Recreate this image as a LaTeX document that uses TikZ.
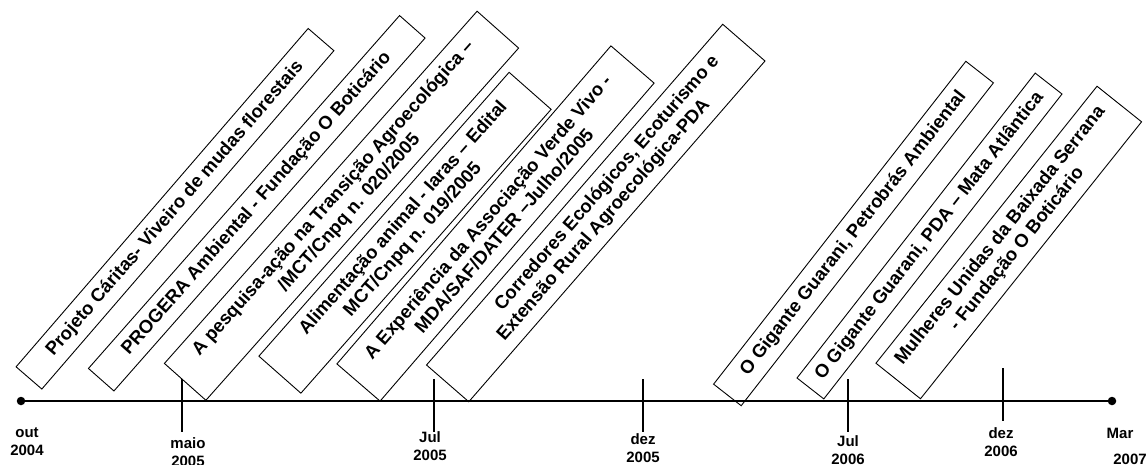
\documentclass[tikz,border=0pt]{standalone}
\usepackage{fontspec}
\setmainfont{Liberation Sans}
\begin{document}
\begin{tikzpicture}[x=1pt,y=-1pt,
  ev/.style={draw, line width=0.9pt, inner sep=0pt, align=center,
    font=\bfseries\fontsize{18.5}{21.5}\selectfont},
  tl/.style={line width=2.6pt},
  tk/.style={line width=2.6pt},
  dt/.style={circle, fill, inner sep=0pt, minimum size=8.5pt},
  lab/.style={font=\bfseries\fontsize{15}{18}\selectfont, align=center, inner sep=0pt}]
\useasboundingbox (0,0) rectangle (1147,464);

% event boxes
\node[ev, rotate=49.2, minimum width=447pt, minimum height=34pt] (e1) at (175,208.75)
  {Projeto Cáritas- Viveiro de mudas florestais};
\node[ev, rotate=48.6, minimum width=470.5pt, minimum height=34pt] (e2) at (256.75,203.25)
  {PROGERA Ambiental - Fundação O Boticário};
\node[ev, rotate=48.4, minimum width=471pt, minimum height=55.5pt] (e3) at (341.5,205.75)
  {A pesquisa-ação na Transição Agroecológica –\\/MCT/Cnpq n. 020/2005};
\node[ev, rotate=48.6, minimum width=378.4pt, minimum height=56pt] (e4) at (405,232.75)
  {\hspace*{20pt}Alimentação animal - Iaras – Edital\\MCT/Cnpq n. 019/2005};
\node[ev, rotate=49.25, minimum width=419.8pt, minimum height=57pt] (e5) at (495.5,223.5)
  {A Experiência da Associação Verde Vivo -\\MDA/SAF/DATER –Julho/2005};
\node[ev, rotate=49.0, minimum width=451.5pt, minimum height=56pt] (e6) at (595.75,213)
  {\hspace*{60pt}Corredores Ecológicos, Ecoturismo e\\Extensão Rural Agroecológica-PDA};
\node[ev, rotate=52.0, minimum width=409.7pt, minimum height=35pt] (e7) at (853.5,233.5)
  {O Gigante Guarani, Petrobrás Ambiental};
\node[ev, rotate=52.0, minimum width=386.9pt, minimum height=34pt] (e8) at (929.5,236)
  {O Gigante Guarani, PDA – Mata Atlântica};
\node[ev, rotate=51.4, minimum width=354.4pt, minimum height=57pt] (e9) at (1008.75,242.5)
  {Mulheres Unidas da Baixada Serrana\\- Fundação O Boticário};

% timeline
\node[dt] (s) at (21,401) {};
\node[dt] (f) at (1112,401) {};
\draw[tl] (s.center) -- (f.center);

% ticks
\coordinate (a1) at (182,379);  \coordinate (a2) at (182,432);
\coordinate (b1) at (434,379);  \coordinate (b2) at (434,432);
\coordinate (c1) at (643,379);  \coordinate (c2) at (643,432);
\coordinate (d1) at (848,379);  \coordinate (d2) at (848,432);
\coordinate (g1) at (1003,368); \coordinate (g2) at (1003,421);
\draw[tk] (a1) -- (a2);
\draw[tk] (b1) -- (b2);
\draw[tk] (c1) -- (c2);
\draw[tk] (d1) -- (d2);
\draw[tk] (g1) -- (g2);

% labels
\node[lab] (l1) at (27,442) {out\\2004};
\node[lab] (l2) at (188,452) {maio\\2005};
\node[lab] (l3) at (430,446) {Jul\\2005};
\node[lab] (l4) at (643,448) {dez\\2005};
\node[lab] (l5) at (848,450) {Jul\\2006};
\node[lab] (l6) at (1001,442) {dez\\2006};
\node[lab] (l7) at (1120,433) {Mar};
\node[lab] (l8) at (1130,459) {2007};
\end{tikzpicture}
\end{document}
